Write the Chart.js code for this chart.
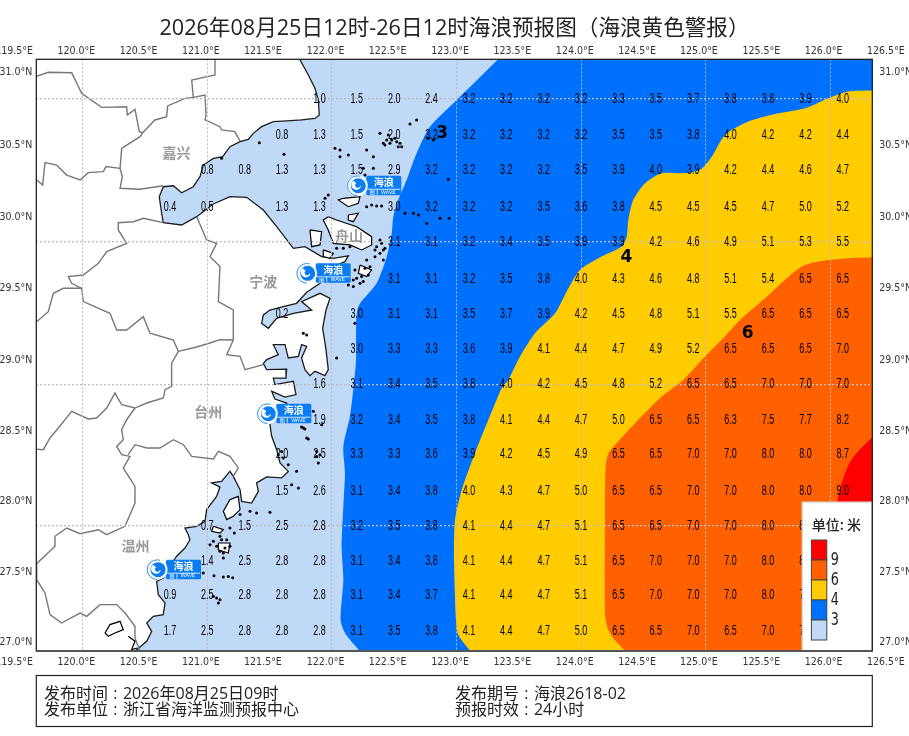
<!DOCTYPE html>
<html lang="zh">
<head>
<meta charset="utf-8">
<title>海浪预报图</title>
<script src="https://cdn.jsdelivr.net/npm/chart.js@4/dist/chart.umd.js"></script>
<style>
html, body { margin: 0; padding: 0; background: #fff; }
canvas { display: block; }
</style>
</head>
<body>
<canvas id="waveChart" width="909" height="736"></canvas>
<script>
const titleText = '2026年08月25日12时-26日12时海浪预报图（海浪黄色警报）';

// axes
const lonMin = 119.628, lonMax = 126.337, latMin = 27.131, latMax = 31.278;
const gridLons = [120, 121, 122, 123, 124, 125, 126];
const gridLats = [28.01, 29, 30, 31];
const lonLabels = ['119.5°E', '120.0°E', '120.5°E', '121.0°E', '121.5°E', '122.0°E', '122.5°E', '123.0°E', '123.5°E', '124.0°E', '124.5°E', '125.0°E', '125.5°E', '126.0°E', '126.5°E'];
const lonLabelAt = [119.449, 119.949, 120.449, 120.949, 121.447, 121.950, 122.448, 122.948, 123.448, 123.949, 124.449, 124.946, 125.446, 125.947, 126.445];
const latLabels = ['31.0°N', '30.5°N', '30.0°N', '29.5°N', '29.0°N', '28.5°N', '28.0°N', '27.5°N', '27.0°N'];
const latLabelAt = [31.185, 30.678, 30.168, 29.671, 29.166, 28.668, 28.178, 27.683, 27.189];

// wave height grid
const colLons = [120.7, 121.0, 121.3, 121.6, 121.9, 122.2, 122.5, 122.8, 123.1, 123.4, 123.7, 124.0, 124.3, 124.6, 124.9, 125.2, 125.5, 125.8, 126.1];
const rowLats = [31, 30.75, 30.5, 30.24, 30, 29.74, 29.49, 29.25, 29, 28.75, 28.51, 28.25, 28.01, 27.76, 27.52, 27.27];
const waveHeights = [
  [null, null, null, null, 1.0, 1.5, 2.0, 2.4, 3.2, 3.2, 3.2, 3.2, 3.3, 3.5, 3.7, 3.8, 3.8, 3.9, 4.0],
  [null, null, null, 0.8, 1.3, 1.5, 2.0, 3.2, 3.2, 3.2, 3.2, 3.2, 3.5, 3.5, 3.8, 4.0, 4.2, 4.2, 4.4],
  [null, 0.8, 0.8, 1.3, 1.3, 1.5, 2.9, 3.2, 3.2, 3.2, 3.2, 3.5, 3.9, 4.0, 3.9, 4.2, 4.4, 4.6, 4.7],
  [0.4, 0.5, null, 1.3, 1.3, null, 3.0, 3.2, 3.2, 3.2, 3.5, 3.6, 3.8, 4.5, 4.5, 4.5, 4.7, 5.0, 5.2],
  [null, null, null, null, null, null, 3.1, 3.1, 3.2, 3.4, 3.5, 3.9, 3.9, 4.2, 4.6, 4.9, 5.1, 5.3, 5.5],
  [null, null, null, null, null, null, 3.1, 3.1, 3.2, 3.5, 3.8, 4.0, 4.3, 4.6, 4.8, 5.1, 5.4, 6.5, 6.5],
  [null, null, null, 0.2, null, 3.0, 3.1, 3.1, 3.5, 3.7, 3.9, 4.2, 4.5, 4.8, 5.1, 5.5, 6.5, 6.5, 6.5],
  [null, null, null, null, null, 3.0, 3.3, 3.3, 3.6, 3.9, 4.1, 4.4, 4.7, 4.9, 5.2, 6.5, 6.5, 6.5, 7.0],
  [null, null, null, null, 1.6, 3.1, 3.4, 3.5, 3.8, 4.0, 4.2, 4.5, 4.8, 5.2, 6.5, 6.5, 7.0, 7.0, 7.0],
  [null, null, null, null, 1.9, 3.2, 3.4, 3.5, 3.8, 4.1, 4.4, 4.7, 5.0, 6.5, 6.5, 6.3, 7.5, 7.7, 8.2],
  [null, null, null, 2.0, 2.5, 3.3, 3.3, 3.6, 3.9, 4.2, 4.5, 4.9, 6.5, 6.5, 7.0, 7.0, 8.0, 8.0, 8.7],
  [null, null, null, 1.5, 2.6, 3.1, 3.4, 3.8, 4.0, 4.3, 4.7, 5.0, 6.5, 6.5, 7.0, 7.0, 8.0, 8.0, 9.0],
  [null, 0.7, 1.5, 2.5, 2.8, 3.2, 3.5, 3.8, 4.1, 4.4, 4.7, 5.1, 6.5, 6.5, 7.0, 7.0, 8.0, 8.0, 8.5],
  [null, 1.4, 2.5, 2.8, 2.8, 3.1, 3.4, 3.8, 4.1, 4.4, 4.7, 5.1, 6.5, 7.0, 7.0, 7.0, 8.0, 8.0, 8.0],
  [0.9, 2.5, 2.8, 2.8, 2.8, 3.1, 3.4, 3.7, 4.1, 4.4, 4.7, 5.1, 6.5, 7.0, 7.0, 7.0, 8.0, 7.5, 8.0],
  [1.7, 2.5, 2.8, 2.8, 2.8, 3.1, 3.5, 3.8, 4.1, 4.4, 4.7, 5.0, 6.5, 6.5, 7.0, 6.5, 7.0, 7.0, 7.5]
];

// contour areas, [lon, lat]
const seaArea = [[119.5, 27.1], [126.5, 27.1], [126.5, 31.3], [119.5, 31.3]];
const contour3 = [[123.36, 31.3], [122.988, 30.981], [122.787, 30.806], [122.680, 30.619], [122.600, 30.432], [122.533, 30.292], [122.493, 30.175], [122.480, 30.058], [122.440, 29.895], [122.359, 29.708], [122.212, 29.544], [122.194, 29.358], [122.194, 29.173], [122.172, 28.963], [122.145, 28.776], [122.092, 28.565], [122.105, 28.379], [122.092, 28.145], [122.078, 27.865], [122.092, 27.631], [122.070, 27.351], [122.105, 27.257], [122.212, 27.141], [122.24, 27.1], [126.5, 27.1], [126.5, 31.3]];
const contour4 = [[126.5, 31.06], [126.145, 31.052], [125.984, 31.005], [125.797, 30.935], [125.556, 30.895], [125.342, 30.842], [125.155, 30.748], [125.048, 30.596], [124.954, 30.503], [124.807, 30.480], [124.647, 30.480], [124.513, 30.410], [124.419, 30.293], [124.379, 30.153], [124.366, 30.036], [124.326, 29.966], [124.165, 29.896], [123.991, 29.802], [123.898, 29.674], [123.791, 29.498], [123.630, 29.358], [123.510, 29.195], [123.416, 29.031], [123.363, 28.973], [123.256, 28.751], [123.148, 28.517], [123.042, 28.260], [122.988, 28.050], [122.980, 27.816], [122.988, 27.513], [122.996, 27.349], [123.015, 27.244], [123.108, 27.134], [123.14, 27.1], [126.5, 27.1]];
const contour6 = [[126.5, 29.89], [126.145, 29.884], [125.904, 29.861], [125.770, 29.826], [125.636, 29.732], [125.476, 29.604], [125.289, 29.463], [125.128, 29.312], [124.994, 29.195], [124.820, 29.031], [124.647, 28.914], [124.433, 28.727], [124.272, 28.575], [124.219, 28.517], [124.197, 28.424], [124.192, 28.097], [124.192, 27.396], [124.213, 27.291], [124.259, 27.221], [124.352, 27.134], [124.39, 27.1], [126.5, 27.1]];
const contour9 = [[126.45, 28.72], [126.198, 28.505], [126.118, 28.377], [126.064, 28.213], [126.037, 28.05], [126.037, 27.63], [126.5, 27.63], [126.5, 28.72]];

// land and coast
const landCoast = [[121.731, 31.296], [121.811, 31.168], [121.864, 31.075], [121.891, 30.993], [121.899, 30.888], [121.864, 30.864], [121.757, 30.853], [121.637, 30.846], [121.530, 30.841], [121.436, 30.806], [121.370, 30.759], [121.329, 30.717], [121.263, 30.701], [121.182, 30.666], [121.124, 30.596], [121.049, 30.584], [120.968, 30.537], [120.942, 30.456], [120.888, 30.385], [120.794, 30.343], [120.728, 30.392], [120.647, 30.385], [120.615, 30.315], [120.634, 30.199], [120.647, 30.133], [120.794, 30.117], [120.915, 30.175], [121.049, 30.264], [121.182, 30.315], [121.316, 30.311], [121.450, 30.222], [121.557, 30.105], [121.691, 29.953], [121.784, 29.965], [121.918, 29.895], [122.012, 29.883], [122.132, 29.900], [122.105, 29.860], [122.012, 29.825], [121.905, 29.708], [121.798, 29.645], [121.717, 29.568], [121.610, 29.545], [121.503, 29.521], [121.450, 29.486], [121.436, 29.428], [121.490, 29.393], [121.557, 29.463], [121.691, 29.498], [121.838, 29.521], [121.757, 29.580], [121.905, 29.638], [121.985, 29.603], [121.953, 29.521], [121.926, 29.393], [121.953, 29.243], [121.971, 29.103], [121.945, 29.061], [121.864, 29.091], [121.824, 29.061], [121.784, 29.103], [121.757, 29.185], [121.798, 29.266], [121.757, 29.278], [121.731, 29.196], [121.650, 29.185], [121.624, 29.278], [121.530, 29.278], [121.570, 29.208], [121.477, 29.173], [121.450, 29.145], [121.477, 29.103], [121.637, 29.107], [121.632, 29.044], [121.530, 29.044], [121.543, 28.998], [121.691, 29.021], [121.712, 28.928], [121.624, 28.911], [121.517, 28.951], [121.543, 28.897], [121.637, 28.869], [121.570, 28.811], [121.503, 28.717], [121.517, 28.636], [121.557, 28.542], [121.584, 28.449], [121.650, 28.390], [121.597, 28.344], [121.477, 28.351], [121.396, 28.309], [121.410, 28.250], [121.356, 28.168], [121.276, 28.180], [121.263, 28.262], [121.209, 28.355], [121.182, 28.390], [121.115, 28.320], [121.035, 28.309], [121.102, 28.280], [121.075, 28.215], [120.995, 28.122], [120.982, 28.040], [120.915, 28.005], [120.821, 27.993], [120.848, 27.946], [120.861, 27.911], [120.821, 27.853], [120.754, 27.795], [120.701, 27.725], [120.647, 27.643], [120.594, 27.619], [120.607, 27.526], [120.661, 27.468], [120.647, 27.386], [120.567, 27.374], [120.514, 27.327], [120.554, 27.269], [120.514, 27.199], [120.420, 27.129], [120.40, 27.1], [119.5, 27.1], [119.5, 31.3], [121.731, 31.296]];

// city borders
const border1 = [[119.604, 31.152], [119.724, 31.187], [119.912, 31.184], [119.992, 31.040], [120.152, 30.941], [120.353, 30.946], [120.358, 30.888], [120.420, 30.927], [120.455, 30.771], [120.482, 30.764], [120.580, 30.853], [120.674, 30.876], [120.682, 30.951], [120.821, 31.004], [120.888, 31.011], [120.982, 31.028], [120.990, 30.888], [120.982, 30.853], [121.102, 30.806], [121.115, 30.783], [121.222, 30.771], [121.263, 30.705]];
const border2 = [[121.062, 31.296], [121.062, 31.168], [120.875, 31.133], [120.888, 31.011]];
const border3 = [[120.482, 30.764], [120.460, 30.736], [120.313, 30.654], [120.300, 30.514], [120.318, 30.456], [120.300, 30.374], [120.460, 30.367], [120.647, 30.392]];
const border4 = [[120.300, 30.514], [120.187, 30.526], [120.166, 30.491], [120.045, 30.484], [119.979, 30.432], [119.872, 30.467], [119.791, 30.537], [119.698, 30.554], [119.679, 30.397], [119.631, 30.432]];
const border5 = [[120.647, 30.133], [120.487, 30.164], [120.407, 30.140], [120.286, 30.133], [120.286, 30.082], [120.353, 29.988], [120.193, 29.930], [120.126, 29.848], [120.005, 29.766], [119.885, 29.755], [119.912, 29.708], [119.992, 29.673]];
const border6 = [[119.992, 29.673], [119.845, 29.673], [119.765, 29.638], [119.724, 29.509], [119.631, 29.439]];
const border7 = [[119.992, 29.673], [120.005, 29.580], [120.219, 29.498], [120.273, 29.381], [120.353, 29.381], [120.487, 29.474], [120.540, 29.358], [120.728, 29.311], [120.768, 29.231], [120.714, 29.149], [120.714, 28.986], [120.661, 28.963], [120.647, 28.904], [120.514, 28.869], [120.420, 28.834], [120.313, 28.857], [120.259, 28.939], [120.193, 28.834], [120.112, 28.764], [120.045, 28.757], [119.912, 28.811], [119.805, 28.694], [119.738, 28.624], [119.684, 28.542], [119.604, 28.547]];
const border8 = [[120.915, 30.175], [120.995, 30.012], [121.075, 29.988], [121.022, 29.895], [121.102, 29.825], [121.089, 29.580], [121.209, 29.521], [121.209, 29.311], [121.156, 29.208], [121.263, 29.196], [121.303, 29.103], [121.450, 29.138]];
const border8b = [[120.768, 29.231], [120.915, 29.262], [121.022, 29.290], [121.102, 29.313], [121.209, 29.311]];
const border9 = [[120.420, 28.834], [120.353, 28.752], [120.313, 28.682], [120.326, 28.612], [120.273, 28.565], [120.313, 28.507], [120.380, 28.495], [120.326, 28.414], [120.420, 28.285], [120.420, 28.168], [120.340, 28.005], [120.193, 27.946], [120.126, 27.981], [119.979, 27.953], [119.872, 27.993], [119.778, 27.935], [119.778, 27.865], [119.631, 27.743], [119.631, 27.631], [119.698, 27.538], [119.738, 27.386], [119.831, 27.327], [119.979, 27.397], [120.032, 27.374], [120.139, 27.456], [120.273, 27.456], [120.340, 27.397], [120.420, 27.304], [120.420, 27.222], [120.460, 27.129]];
const border10 = [[120.366, 28.507], [120.420, 28.577], [120.514, 28.554], [120.621, 28.554], [120.728, 28.612], [120.808, 28.577], [120.875, 28.495], [121.049, 28.477], [121.089, 28.530], [121.182, 28.495], [121.249, 28.414], [121.209, 28.355]];
const borders = [border1, border2, border3, border4, border5, border6, border7, border8, border8b, border9, border10];

// islands
const islandZhoushan = [[121.971, 30.175], [122.038, 30.152], [122.199, 30.105], [122.319, 30.035], [122.319, 29.977], [122.239, 29.942], [122.145, 29.977], [122.012, 29.988], [121.971, 30.082], [121.931, 30.152], [121.971, 30.175]];
const islandDaishan = [[122.092, 30.304], [122.226, 30.315], [122.212, 30.269], [122.132, 30.245], [122.052, 30.292], [122.092, 30.304]];
const islandQushan = [[122.132, 30.187], [122.212, 30.199], [122.172, 30.140], [122.132, 30.152], [122.132, 30.187]];
const islandJintang = [[121.824, 30.082], [121.918, 30.070], [121.905, 29.977], [121.838, 29.965], [121.824, 30.082]];
const islandLiuheng = [[122.226, 29.836], [122.319, 29.801], [122.279, 29.755], [122.212, 29.778], [122.226, 29.836]];
const islandCezi = [[121.931, 29.942], [122.012, 29.918], [121.985, 29.883], [121.931, 29.895], [121.931, 29.942]];
const islandYuhuan = [[121.182, 28.192], [121.249, 28.215], [121.263, 28.122], [121.209, 28.075], [121.156, 28.052], [121.129, 28.110], [121.182, 28.192]];
const islandDongtou = [[121.089, 27.888], [121.182, 27.888], [121.169, 27.818], [121.089, 27.841], [121.089, 27.888]];
const islandLingkun = [[121.049, 28.005], [121.129, 27.982], [121.102, 27.958], [121.035, 27.970], [121.049, 28.005]];
const shachengBay = [[120.179, 27.257], [120.219, 27.316], [120.300, 27.339], [120.326, 27.281], [120.259, 27.257], [120.206, 27.234], [120.179, 27.257]];
const fudingShore = [[120.366, 27.234], [120.420, 27.199], [120.393, 27.141], [120.439, 27.152]];
const islands = [islandZhoushan, islandDaishan, islandQushan, islandJintang, islandLiuheng, islandCezi, islandYuhuan, islandDongtou, islandLingkun, shachengBay, fudingShore];
const smallIslands = [[122.386, 30.759], [122.453, 30.748], [122.506, 30.724], [122.413, 30.689], [122.533, 30.666], [122.560, 30.666], [122.440, 30.712], [122.680, 30.853], [122.627, 30.825], [122.774, 30.724], [122.814, 30.712], [122.025, 30.654], [122.065, 30.642], [122.065, 30.596], [122.132, 30.607], [122.279, 30.642], [122.333, 30.596], [121.418, 30.694], [121.616, 30.612], [121.115, 30.584], [122.934, 30.437], [122.761, 30.128], [122.868, 30.164], [122.940, 30.164], [122.587, 30.199], [122.654, 30.199], [122.694, 30.187], [122.279, 30.245], [122.319, 30.257], [122.359, 30.250], [122.399, 30.250], [122.266, 30.467], [122.333, 30.514], [122.252, 30.514], [121.971, 30.327], [121.945, 30.304], [122.386, 30.012], [122.359, 29.965], [122.386, 29.918], [122.346, 29.895], [122.038, 29.953], [122.092, 29.953], [122.145, 29.965], [122.185, 29.801], [122.239, 29.755], [122.279, 29.872], [122.226, 29.708], [122.172, 29.685], [122.306, 29.825], [122.413, 29.942], [122.185, 29.428], [121.771, 29.358], [121.798, 29.346], [122.038, 29.185], [121.811, 28.617], [121.717, 28.390], [121.731, 28.273], [121.677, 28.297], [121.878, 28.495], [121.891, 28.449], [121.878, 28.530], [121.905, 28.507], [121.918, 28.717], [121.851, 28.811], [121.771, 28.694], [121.396, 28.098], [121.503, 28.103], [121.343, 28.110], [120.968, 27.678], [121.054, 27.659], [121.129, 27.650], [121.169, 27.654], [121.204, 27.645], [121.075, 27.503], [121.102, 27.491], [121.049, 27.514], [121.089, 27.468], [121.129, 27.783], [121.102, 27.935], [121.142, 27.853], [121.022, 27.876], [121.217, 27.958], [121.182, 27.993], [121.263, 28.087], [122.399, 29.988], [122.426, 29.953], [122.413, 29.872], [122.346, 29.942], [122.266, 29.813], [122.252, 29.720], [122.292, 29.766], [122.199, 29.743], [122.132, 29.696], [122.172, 29.731], [122.480, 30.712], [122.520, 30.701], [122.547, 30.689], [122.426, 30.677], [122.466, 30.689], [121.570, 28.507], [121.610, 28.484], [121.597, 28.530], [121.650, 28.437], [121.049, 27.900], [121.075, 27.865], [121.115, 27.911], [121.156, 27.911], [121.182, 27.865], [121.129, 27.818], [121.102, 27.830], [121.798, 28.624], [121.757, 28.701], [121.784, 28.687]];

// text on the map
const cityNames = ['嘉兴', '舟山', '宁波', '台州', '温州'];
const cityLons = [120.754, 122.137, 121.45, 121.008, 120.425];
const cityLats = [30.624, 30.04, 29.72, 28.806, 27.872];
const contourLabels = ['3', '4', '6'];
const contourLabelLons = [122.886, 124.363, 125.337];
const contourLabelLats = [30.76, 29.891, 29.358];
const logoLons = [122.204, 121.798, 121.482, 120.597];
const logoLats = [30.392, 29.778, 28.794, 27.701];

// legend and footer
const levelColors = ['#ff0000', '#ff6000', '#ffcc00', '#0070ff', '#bfd9f7'];
const levelTicks = ['9', '6', '4', '3'];
const footerLeft = ['发布时间 : 2026年08月25日09时', '发布单位 : 浙江省海洋监测预报中心'];
const footerRight = ['发布期号 : 海浪2618-02', '预报时效 : 24小时'];

const CJK = '"Noto Sans CJK SC", "Noto Sans", sans-serif';
const MIXED = '"Open Sans", "Noto Sans CJK SC", sans-serif';

function toXY(pts) {
    return pts.map(p => ({ x: p[0], y: p[1] }));
}

function areaSet(pts, color, tension) {
    return { data: toXY(pts), showLine: true, pointRadius: 0, borderWidth: 0, tension: tension, areaColor: color };
}

function lineSet(pts, color, width) {
    return { data: toXY(pts), showLine: true, pointRadius: 0, borderColor: color, borderWidth: width, fill: false };
}

// top of the list draws last in Chart.js
const datasets = [];
datasets.push({ data: toXY(smallIslands), pointRadius: 1.5, pointBackgroundColor: '#000', pointBorderWidth: 0, showLine: false });
islands.forEach((isl, i) => {
    const ds = lineSet(isl, '#000', 1.2);
    if (i < 9) ds.areaColor = '#fff';
    datasets.push(ds);
});
borders.forEach(b => datasets.push(lineSet(b, '#777', 1.4)));
const landSet = lineSet(landCoast, '#1c1c1c', 1.3);
landSet.areaColor = '#fff';
datasets.push(landSet);
datasets.push(areaSet(contour9, levelColors[0], 0.35));
datasets.push(areaSet(contour6, levelColors[1], 0.25));
datasets.push(areaSet(contour4, levelColors[2], 0.25));
datasets.push(areaSet(contour3, levelColors[3], 0.25));
datasets.push(areaSet(seaArea, levelColors[4], 0));

// closed shapes: fill the line element's own path
const areaFill = {
    id: 'areaFill',
    beforeDatasetDraw(chart, args) {
        const color = chart.data.datasets[args.index].areaColor;
        if (!color) return;
        const ctx = chart.ctx, a = chart.chartArea, line = args.meta.dataset;
        line.updateControlPoints(a);
        ctx.save();
        ctx.beginPath();
        ctx.rect(a.left, a.top, a.right - a.left, a.bottom - a.top);
        ctx.clip();
        ctx.beginPath();
        line.path(ctx);
        ctx.closePath();
        ctx.fillStyle = color;
        ctx.fill();
        ctx.restore();
    }
};

function drawLogo(ctx, cx, cy) {
    ctx.save();
    ctx.fillStyle = '#0a7df2';
    ctx.beginPath();
    ctx.roundRect(cx + 9, cy - 10, 35, 19.5, 1.5);
    ctx.fill();
    ctx.strokeStyle = '#fff';
    ctx.lineWidth = 0.8;
    ctx.beginPath();
    ctx.moveTo(cx + 10, cy + 3.5);
    ctx.lineTo(cx + 43, cy + 3.5);
    ctx.moveTo(cx + 20, cy + 3.5);
    ctx.lineTo(cx + 20, cy + 9);
    ctx.stroke();
    ctx.fillStyle = '#fff';
    ctx.textAlign = 'center';
    ctx.textBaseline = 'middle';
    ctx.font = 'bold 10px ' + CJK;
    ctx.fillText('海浪', cx + 26.5, cy - 3.5);
    ctx.font = '5px "DejaVu Sans"';
    ctx.fillText('WAVE', cx + 31, cy + 6.5);
    ctx.font = '5px ' + CJK;
    ctx.fillText('图', cx + 15, cy + 6.5);
    // swirl badge
    ctx.fillStyle = '#fff';
    ctx.beginPath();
    ctx.arc(cx, cy, 10.5, 0, Math.PI * 2);
    ctx.fill();
    ctx.strokeStyle = '#2b8ff0';
    ctx.lineWidth = 1;
    ctx.beginPath();
    ctx.arc(cx, cy, 9.8, Math.PI * 0.5, Math.PI * 1.6);
    ctx.stroke();
    ctx.fillStyle = '#0a7df2';
    ctx.beginPath();
    ctx.arc(cx + 1, cy, 7.5, 0, Math.PI * 2);
    ctx.fill();
    ctx.fillStyle = '#fff';
    ctx.beginPath();
    ctx.arc(cx - 1, cy - 1, 5, Math.PI * 0.1, Math.PI * 1.3);
    ctx.arc(cx + 0.5, cy - 0.5, 2.5, Math.PI * 1.3, Math.PI * 0.1, true);
    ctx.fill();
    ctx.restore();
}

// everything above the grid: numbers, names, logos, legend, footer
const overlay = {
    id: 'overlay',
    afterDraw(chart) {
        const ctx = chart.ctx, sx = chart.scales.x, sy = chart.scales.y, a = chart.chartArea;
        ctx.save();
        ctx.beginPath();
        ctx.rect(a.left, a.top, a.right - a.left, a.bottom - a.top);
        ctx.clip();
        ctx.textAlign = 'center';
        ctx.textBaseline = 'middle';

        ctx.fillStyle = '#000';
        ctx.font = '14.5px "Liberation Sans"';
        waveHeights.forEach((row, r) => {
            row.forEach((v, c) => {
                if (v === null) return;
                ctx.save();
                ctx.translate(sx.getPixelForValue(colLons[c]), sy.getPixelForValue(rowLats[r]));
                ctx.scale(0.62, 1);
                ctx.fillText(v.toFixed(1), 0, 0);
                ctx.restore();
            });
        });

        ctx.fillStyle = '#999';
        ctx.font = 'bold 14px ' + CJK;
        cityNames.forEach((n, i) => {
            ctx.fillText(n, sx.getPixelForValue(cityLons[i]), sy.getPixelForValue(cityLats[i]));
        });

        ctx.fillStyle = '#000';
        ctx.font = 'bold 17px "DejaVu Sans"';
        contourLabels.forEach((t, i) => {
            ctx.fillText(t, sx.getPixelForValue(contourLabelLons[i]), sy.getPixelForValue(contourLabelLats[i]));
        });

        logoLons.forEach((lon, i) => drawLogo(ctx, sx.getPixelForValue(lon), sy.getPixelForValue(logoLats[i])));

        // legend box
        const lx = a.right - 70.5, ly = a.bottom - 149.3;
        ctx.fillStyle = '#fff';
        ctx.fillRect(lx, ly, 70.5, 149.3);
        ctx.strokeStyle = '#ccc';
        ctx.lineWidth = 1;
        ctx.strokeRect(lx + 0.5, ly + 0.5, 69.5, 148.3);
        ctx.fillStyle = '#222';
        ctx.font = '500 14px ' + CJK;
        ctx.fillText('单位: 米', lx + 34.5, ly + 23);
        levelColors.forEach((col, i) => {
            const top = ly + 38.3 + i * 20;
            ctx.fillStyle = col;
            ctx.fillRect(lx + 9.6, top, 15.4, 20);
            ctx.strokeStyle = '#444';
            ctx.lineWidth = 1;
            ctx.strokeRect(lx + 9.6, top, 15.4, 20);
        });
        ctx.fillStyle = '#222';
        ctx.font = '17px "DejaVu Sans"';
        levelTicks.forEach((t, i) => {
            ctx.save();
            ctx.translate(lx + 33, ly + 58.5 + i * 20);
            ctx.scale(0.75, 1);
            ctx.fillText(t, 0, 0);
            ctx.restore();
        });
        ctx.restore();

        // frames
        ctx.save();
        ctx.strokeStyle = '#222';
        ctx.lineWidth = 1.3;
        ctx.strokeRect(a.left, a.top, a.right - a.left, a.bottom - a.top);
        ctx.strokeStyle = '#555';
        ctx.lineWidth = 2;
        ctx.beginPath();
        ctx.moveTo(a.left, a.bottom);
        ctx.lineTo(a.right, a.bottom);
        ctx.stroke();
        ctx.strokeStyle = '#222';
        ctx.lineWidth = 1.2;
        ctx.strokeRect(a.left, 675.5, a.right - a.left, 51);

        ctx.fillStyle = '#222';
        ctx.font = '16px ' + MIXED;
        ctx.textAlign = 'left';
        ctx.textBaseline = 'middle';
        ctx.wordSpacing = '1.2px';
        ctx.fillText(footerLeft[0], 44, 694);
        ctx.fillText(footerLeft[1], 44, 710);
        ctx.fillText(footerRight[0], 455, 694);
        ctx.fillText(footerRight[1], 455, 710);
        ctx.restore();
    }
};

function labelAxis(position, min, max, at, labels, size, padding) {
    const horizontal = position === 'top' || position === 'bottom';
    return {
        type: 'linear',
        position: position,
        min: min,
        max: max,
        grid: { display: false, drawTicks: false },
        border: { display: false },
        ticks: {
            autoSkip: false,
            maxRotation: 0,
            minRotation: 0,
            padding: padding,
            color: '#333',
            font: { family: '"DejaVu Sans Condensed", "DejaVu Sans"', size: 10.5 },
            callback: (v, i) => labels[i]
        },
        afterBuildTicks: s => { s.ticks = at.map(v => ({ value: v })); },
        afterFit: s => {
            if (horizontal) s.height = size; else s.width = size;
            s.paddingLeft = s.paddingRight = s.paddingTop = s.paddingBottom = 0;
        }
    };
}

function gridAxis(position, min, max, at, width, dash) {
    const horizontal = position === 'bottom';
    return {
        type: 'linear',
        position: position,
        min: min,
        max: max,
        grid: { color: '#bdbdbd', lineWidth: width, drawTicks: false, z: 1 },
        border: { display: false, dash: dash },
        ticks: { display: false },
        afterBuildTicks: s => { s.ticks = at.map(v => ({ value: v })); },
        afterFit: s => {
            if (horizontal) s.height = 0; else s.width = 0;
            s.paddingLeft = s.paddingRight = s.paddingTop = s.paddingBottom = 0;
        }
    };
}

new Chart(document.getElementById('waveChart'), {
    type: 'scatter',
    data: { datasets: datasets },
    plugins: [areaFill, overlay],
    options: {
        responsive: false,
        animation: false,
        events: [],
        layout: { padding: 0 },
        plugins: {
            legend: { display: false },
            tooltip: { enabled: false },
            title: {
                display: true,
                text: titleText,
                color: '#222',
                font: { family: MIXED, size: 21.6, weight: 'normal' },
                padding: { top: 16, bottom: 0 }
            }
        },
        scales: {
            x: gridAxis('bottom', lonMin, lonMax, gridLons, 1, [2, 2]),
            y: gridAxis('left', latMin, latMax, gridLats, 1.3, [2, 2]),
            xBottom: labelAxis('bottom', lonMin, lonMax, lonLabelAt, lonLabels, 85, 5),
            xTop: labelAxis('top', lonMin, lonMax, lonLabelAt, lonLabels, 17.4, 2),
            yLeft: labelAxis('left', latMin, latMax, latLabelAt, latLabels, 36.3, 4),
            yRight: labelAxis('right', latMin, latMax, latLabelAt, latLabels, 36.7, 7)
        }
    }
});
</script>
</body>
</html>
